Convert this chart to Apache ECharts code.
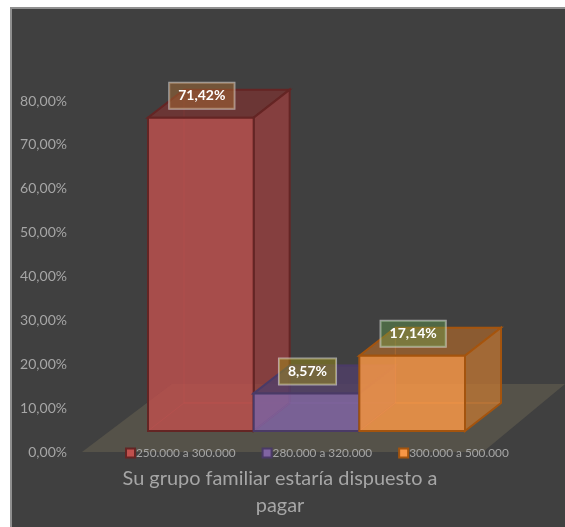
<!DOCTYPE html>
<html>
<head>
<meta charset="utf-8">
<script src="https://cdn.jsdelivr.net/npm/echarts@6/dist/echarts.min.js"></script>
<style>
  html, body { margin: 0; padding: 0; background: #fff; }
  #panel { position: absolute; left: 10px; top: 7px; width: 553px; height: 518px; background: #404040; border-left: 2px solid #8f8f8f; border-top: 2px solid #8f8f8f; }
  #chart { position: absolute; left: 0; top: 0; width: 565px; height: 527px; }
</style>
</head>
<body>
<div id="panel"></div>
<div id="chart"></div>
<script>
var categories = ['250.000 a 300.000', '280.000 a 320.000', '300.000 a 500.000'];
var values = [71.42, 8.57, 17.14];
var yTicks = [0, 10, 20, 30, 40, 50, 60, 70, 80];
var titleText = 'Su grupo familiar estaría dispuesto a\npagar';

var fontName = 'Lato, "Open Sans", sans-serif';
var faceColors = [
  { front: 'rgba(192,80,77,0.8)', side: 'rgba(160,62,62,0.72)', top: 'rgba(125,50,48,0.7)', line: '#642524', inner: 'rgba(192,80,77,0.4)', base: '#C0504D', tag: 'rgba(165,105,50,0.5)' },
  { front: 'rgba(128,100,162,0.85)', side: 'rgba(90,70,115,0.7)', top: 'rgba(80,62,105,0.8)', line: '#4a3a66', inner: 'rgba(128,100,162,0.4)', base: '#8064A2', tag: 'rgba(165,150,20,0.45)' },
  { front: 'rgba(247,150,70,0.85)', side: 'rgba(200,120,50,0.72)', top: 'rgba(190,110,40,0.6)', line: '#a4540e', inner: 'rgba(247,150,70,0.35)', base: '#F79646', tag: 'rgba(100,165,80,0.4)' }
];
// perspective of the boxes and the floor, px
var depthX = 36, depthY = 28;
var floorLift = 4.79;   // front of the boxes sits this many % above the axis zero
var floorLeftOut = 66, floorRightOut = 18, floorBack = 68;

function pct(v) { return v.toFixed(2).replace('.', ',') + '%'; }

function renderBox(colorIdx) {
  return function (params, api) {
    var cat = api.value(0), val = api.value(1);
    var c = faceColors[colorIdx];
    var w = api.size([1, 0])[0];
    var bottom = api.coord([cat, floorLift]);
    var top = api.coord([cat, val + floorLift]);
    var l = bottom[0] - w / 2, r = bottom[0] + w / 2, yb = bottom[1], yt = top[1];
    function face(pts, fill, width, stroke) {
      return { type: 'polygon', shape: { points: pts }, style: { fill: fill, stroke: stroke, lineWidth: width } };
    }
    return {
      type: 'group',
      children: [
        face([[l + depthX, yb - depthY], [r + depthX, yb - depthY], [r + depthX, yt - depthY], [l + depthX, yt - depthY]], 'transparent', 1, c.inner),
        face([[l, yb], [l + depthX, yb - depthY], [r + depthX, yb - depthY], [r, yb]], 'transparent', 1, c.inner),
        face([[l, yt], [l + depthX, yt - depthY], [r + depthX, yt - depthY], [r, yt]], c.top, 2, c.line),
        face([[r, yb], [r + depthX, yb - depthY], [r + depthX, yt - depthY], [r, yt]], c.side, 2, c.line),
        face([[l, yb], [r, yb], [r, yt], [l, yt]], c.front, 2, c.line),
        {
          type: 'text',
          z2: 50,
          style: {
            x: bottom[0] + 1, y: yt - 22,
            text: pct(val),
            align: 'center', verticalAlign: 'middle',
            fill: '#fff',
            font: 'bold 14px ' + fontName,
            backgroundColor: c.tag,
            borderColor: 'rgba(225,225,225,0.6)',
            borderWidth: 1,
            padding: [6, 9, 6, 9]
          }
        }
      ]
    };
  };
}

function renderFloor(params, api) {
  var w = api.size([1, 0])[0];
  var p0 = api.coord([0, 0]), p2 = api.coord([categories.length - 1, 0]);
  var l = p0[0] - w / 2 - floorLeftOut, r = p2[0] + w / 2 + floorRightOut, y = p0[1];
  return {
    type: 'polygon',
    shape: { points: [[l, y], [r, y], [r + 82, y - floorBack], [l + 90, y - floorBack]] },
    style: { fill: '#555249' }
  };
}

var series = [{
  type: 'custom',
  silent: true,
  z: 1,
  renderItem: renderFloor,
  data: [[0, 0]],
  encode: { x: 0, y: 1 }
}];
categories.forEach(function (name, i) {
  series.push({
    name: name,
    type: 'custom',
    z: 2 + i,
    renderItem: renderBox(i),
    itemStyle: { color: faceColors[i].base, borderColor: faceColors[i].line, borderWidth: 2 },
    data: [[i, values[i]]],
    encode: { x: 0, y: 1 }
  });
});

var chart = echarts.init(document.getElementById('chart'), null, { renderer: 'canvas' });
chart.setOption({
  animation: false,
  backgroundColor: 'transparent',
  title: {
    text: titleText,
    left: 275,
    top: 460,
    textAlign: 'center',
    textStyle: { color: '#a6a6a6', fontFamily: fontName, fontWeight: 'normal', fontSize: 19.9, lineHeight: 27 }
  },
  legend: {
    left: 120,
    top: 442,
    itemWidth: 9,
    itemHeight: 9,
    itemGap: 26,
    data: categories.map(function (n) { return { name: n, icon: 'rect' }; }),
    textStyle: { color: '#a6a6a6', fontFamily: fontName, fontSize: 11.8, padding: [0, 0, 0, -4] }
  },
  grid: { left: 148, top: 101, width: 317, height: 351 },
  xAxis: {
    type: 'category',
    data: categories,
    axisLine: { show: false },
    axisTick: { show: false },
    axisLabel: { show: false },
    splitLine: { show: false }
  },
  yAxis: {
    type: 'value',
    min: yTicks[0],
    max: yTicks[yTicks.length - 1],
    interval: yTicks[1] - yTicks[0],
    axisLine: { show: false },
    axisTick: { show: false },
    splitLine: { show: false },
    axisLabel: {
      color: '#a6a6a6',
      fontFamily: fontName,
      fontSize: 14,
      margin: 81,
      formatter: pct
    }
  },
  series: series
});
</script>
</body>
</html>
